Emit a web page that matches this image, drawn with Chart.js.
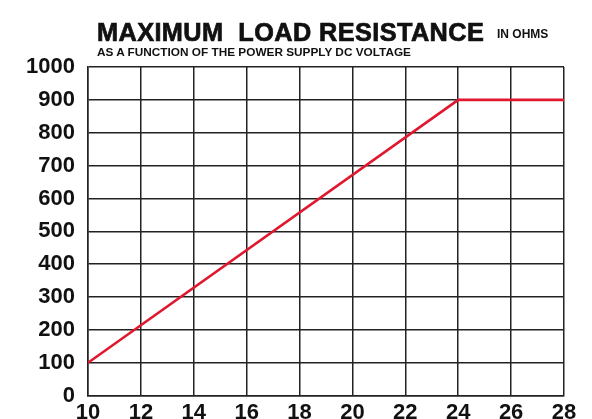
<!DOCTYPE html>
<html>
<head>
<meta charset="utf-8">
<script src="https://cdn.jsdelivr.net/npm/chart.js@4.4.1/dist/chart.umd.min.js"></script>
<style>
  html, body { margin: 0; padding: 0; background: #fff; overflow: hidden; }
  #wrap { position: relative; width: 592px; height: 419px; overflow: hidden; }
  #chartCarga { position: absolute; left: 0; top: 0; }
  .txt { position: absolute; font-family: "Liberation Sans", Arial, sans-serif; font-weight: bold; color: #111; white-space: nowrap; }
  #titulo { left: 97px; top: 18px; font-size: 25.3px; letter-spacing: 0.4px; -webkit-text-stroke: 0.7px #111; }
  #unidad { left: 497px; top: 27px; font-size: 12px; }
  #subtitulo { left: 97px; top: 45px; font-size: 11.8px; }
</style>
</head>
<body>
<div id="wrap">
  <canvas id="chartCarga" width="592" height="440"></canvas>
  <div class="txt" id="titulo">MAXIMUM&nbsp;&nbsp;LOAD RESISTANCE</div>
  <div class="txt" id="unidad">IN OHMS</div>
  <div class="txt" id="subtitulo">AS A FUNCTION OF THE POWER SUPPLY DC VOLTAGE</div>
</div>
<script>
// Datos
const voltajes = [10, 24, 28];
const resistencias = [100, 900, 900];
const ticksX = [10, 12, 14, 16, 18, 20, 22, 24, 26, 28];
const ticksY = [0, 100, 200, 300, 400, 500, 600, 700, 800, 900, 1000];

const colorGrid = '#222';
const colorLinea = '#e0182f';
const fuenteEjes = { family: '"Liberation Sans", Arial, sans-serif', weight: 'bold', size: 22 };

function inicializarChart() {
    const ctx = document.getElementById('chartCarga');
    new Chart(ctx, {
        type: 'line',
        data: {
            datasets: [{
                data: voltajes.map((v, i) => ({ x: v, y: resistencias[i] })),
                borderColor: colorLinea,
                borderWidth: 2.6,
                pointRadius: 0,
                tension: 0,
                fill: false
            }]
        },
        options: {
            responsive: false,
            animation: false,
            layout: { padding: { top: 67, right: 28, bottom: 10, left: 10 } },
            plugins: { legend: { display: false }, tooltip: { enabled: false } },
            scales: {
                x: {
                    type: 'linear',
                    min: ticksX[0],
                    max: ticksX[ticksX.length - 1],
                    afterBuildTicks: (s) => { s.ticks = ticksX.map(v => ({ value: v })); },
                    ticks: { color: '#111', font: fuenteEjes, padding: 4, maxRotation: 0,
                             callback: (v) => String(v) },
                    grid: { color: colorGrid, lineWidth: 1.5, drawTicks: false },
                    border: { color: colorGrid, width: 1.5 }
                },
                y: {
                    min: ticksY[0],
                    max: ticksY[ticksY.length - 1],
                    afterBuildTicks: (s) => { s.ticks = ticksY.map(v => ({ value: v })); },
                    afterFit: (s) => { s.width = 78; },
                    ticks: { color: '#111', font: fuenteEjes, padding: 13,
                             callback: (v) => String(v) },
                    grid: { color: colorGrid, lineWidth: 1.5, drawTicks: false },
                    border: { color: colorGrid, width: 1.5 }
                }
            }
        }
    });
}

inicializarChart();
</script>
</body>
</html>
